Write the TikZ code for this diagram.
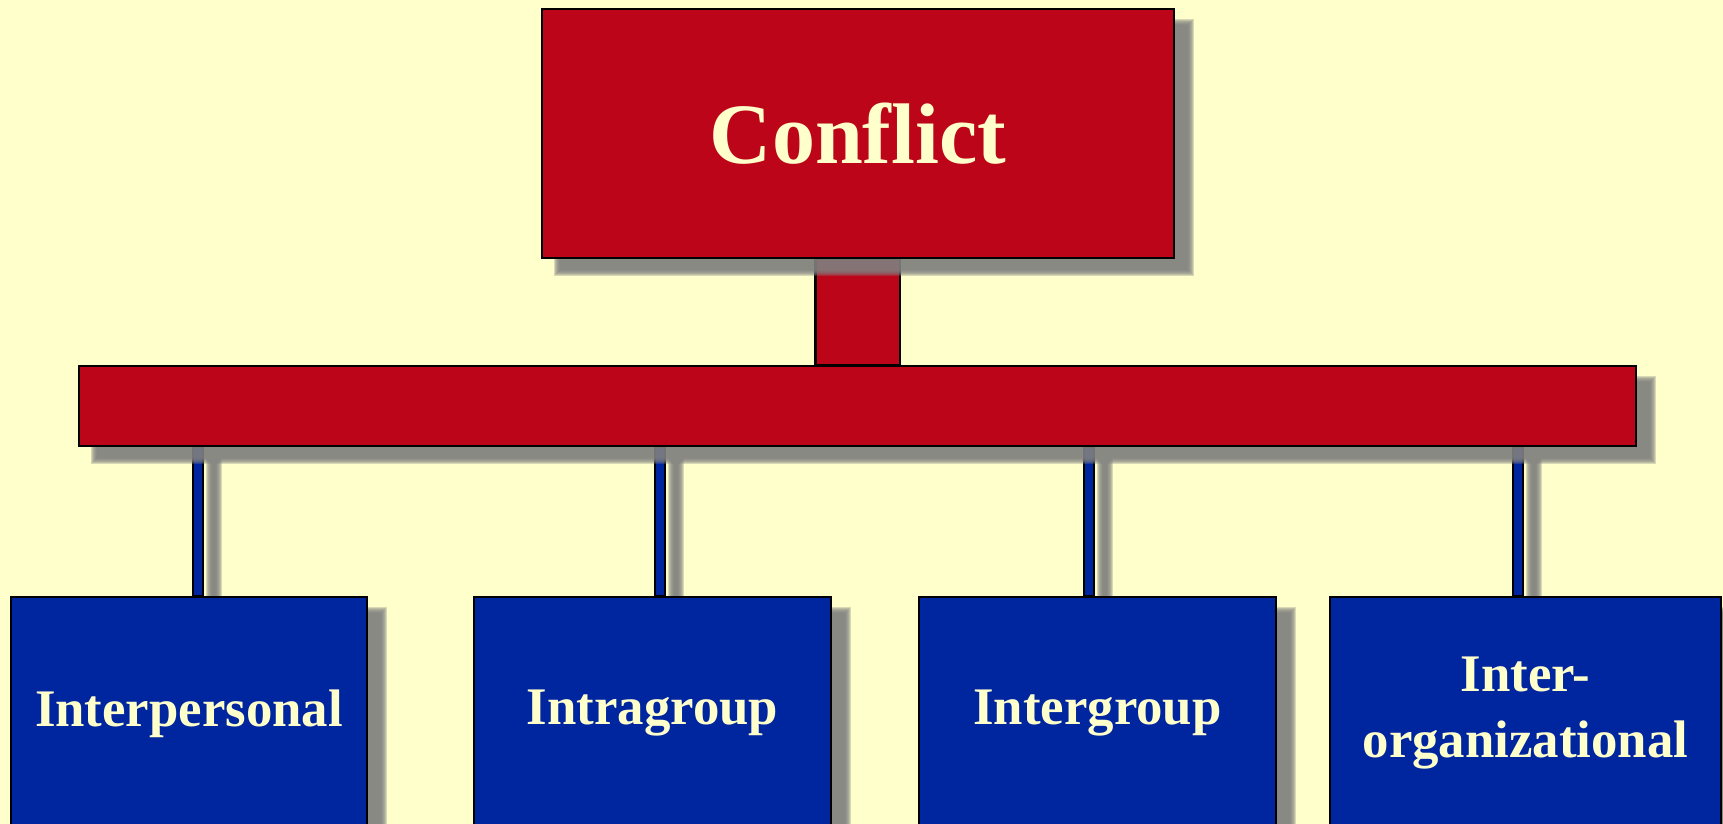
\documentclass[tikz,border=0pt]{standalone}
\usepackage{fontspec}
\setmainfont{Liberation Serif}
\usetikzlibrary{calc}
\definecolor{bgc}{HTML}{FFFFCC}
\definecolor{redc}{HTML}{BD0519}
\definecolor{bluec}{HTML}{00269F}
\definecolor{txtc}{HTML}{FFFFCC}
\definecolor{shc}{HTML}{808080}
\pgfdeclarelayer{bgl}
\pgfdeclarelayer{back}
\pgfdeclarelayer{shad}
\pgfsetlayers{bgl,back,shad,main}
% soft shadow from two corners (north west, south east)
\newcommand\softshadow[2]{%
  \foreach \i in {-3,...,3}{%
    \fill[shadowst] ($#1+(16+\i,14+\i)$) rectangle ($#2+(16-\i,14-\i)$);}}
\begin{document}
\begin{tikzpicture}[x=0.5pt,y=-0.5pt,
  shadowst/.style={fill=shc,opacity=0.3},
  redbox/.style={rectangle,draw=black,line width=1.1pt,fill=redc,inner sep=0pt},
  bluebox/.style={rectangle,draw=black,line width=1.1pt,fill=bluec,inner sep=0pt,minimum height=116.5pt,
    text=txtc,font=\fontsize{26.4}{33}\selectfont\bfseries,align=center},
  stemst/.style={draw=black,line width=1.1pt,fill=redc},
  conn/.style={draw=black,line width=1.1pt,fill=bluec}]
\useasboundingbox (0,0) rectangle (1723,824);
\begin{pgfonlayer}{bgl}
\fill[bgc] (0,0) rectangle (1723,824);
\end{pgfonlayer}

\node[redbox,minimum width=316pt,minimum height=124.5pt,text=txtc,font=\fontsize{43}{50}\selectfont\bfseries] (conf) at (858,133.5) {Conflict};
\node[redbox,minimum width=778.5pt,minimum height=40pt] (bar) at (857.5,406) {};

\node[bluebox,minimum width=178pt] (b1) at (189,713.5) {Interpersonal};
\node[bluebox,minimum width=178.5pt] (b2) at (652.5,713.5) {Intragroup};
\node[bluebox,minimum width=178.5pt] (b3) at (1097.5,713.5) {Intergroup};
\node[bluebox,minimum width=195.5pt] (b4) at (1525.5,713.5) {Inter-\\organizational};

\begin{pgfonlayer}{shad}
\softshadow{(conf.north west)}{(conf.south east)}
\softshadow{(bar.north west)}{(bar.south east)}
\softshadow{(b1.north west)}{(b1.south east)}
\softshadow{(b2.north west)}{(b2.south east)}
\softshadow{(b3.north west)}{(b3.south east)}
\softshadow{(b4.north west)}{(b4.south east)}
\end{pgfonlayer}

\coordinate (c1) at (198,0);
\coordinate (c2) at (660,0);
\coordinate (c3) at (1089,0);
\coordinate (c4) at (1518,0);
\coordinate (s0a) at ($(conf.south)+(-42.5,0)$);
\coordinate (s0b) at ($(bar.north)+(42.5,0)$);
\foreach \k in {1,2,3,4}{
  \coordinate (k\k a) at ($(bar.south -| c\k)+(-5,0)$);
  \coordinate (k\k b) at ($(b\k.north -| c\k)+(5,0)$);
}

\begin{pgfonlayer}{back}
\path[stemst] (s0a) rectangle (s0b);
\foreach \k in {1,2,3,4}{
  \softshadow{(k\k a)}{(k\k b)}
  \path[conn] (k\k a) rectangle (k\k b);
}
\end{pgfonlayer}
\end{tikzpicture}
\end{document}
